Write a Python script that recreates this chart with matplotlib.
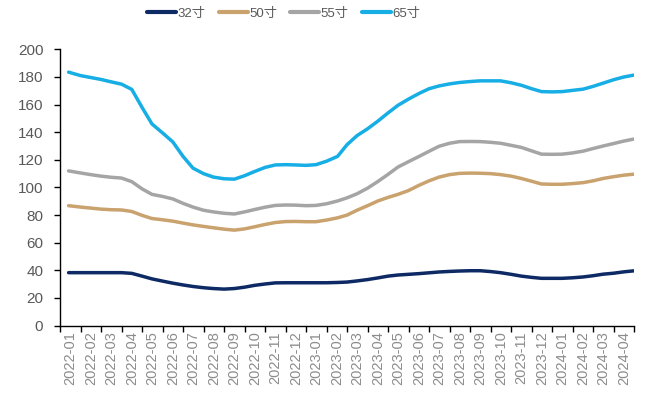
import matplotlib
matplotlib.use("Agg")
import matplotlib.pyplot as plt
import pandas as pd
import calendar

plt.rcParams['font.family'] = ['Liberation Sans', 'Noto Sans CJK SC', 'DejaVu Sans']

month_labels = ["2022-01", "2022-02", "2022-03", "2022-04", "2022-05", "2022-06", "2022-07",
                "2022-08", "2022-09", "2022-10", "2022-11", "2022-12", "2023-01", "2023-02",
                "2023-03", "2023-04", "2023-05", "2023-06", "2023-07", "2023-08", "2023-09",
                "2023-10", "2023-11", "2023-12", "2024-01", "2024-02", "2024-03", "2024-04"]

dates = ["2022-01-14",
         "2022-02-01", "2022-02-16", "2022-03-01", "2022-03-16", "2022-04-01", "2022-04-16",
         "2022-05-01", "2022-05-16", "2022-06-01", "2022-06-16", "2022-07-01", "2022-07-16",
         "2022-08-01", "2022-08-16", "2022-09-01", "2022-09-16", "2022-10-01", "2022-10-16",
         "2022-11-01", "2022-11-16", "2022-12-01", "2022-12-16", "2023-01-01", "2023-01-16",
         "2023-02-01", "2023-02-16", "2023-03-01", "2023-03-16", "2023-04-01", "2023-04-16",
         "2023-05-01", "2023-05-16", "2023-06-01", "2023-06-16", "2023-07-01", "2023-07-16",
         "2023-08-01", "2023-08-16", "2023-09-01", "2023-09-16", "2023-10-01", "2023-10-16",
         "2023-11-01", "2023-11-16", "2023-12-01", "2023-12-16", "2024-01-01", "2024-01-16",
         "2024-02-01", "2024-02-16", "2024-03-01", "2024-03-16", "2024-04-01", "2024-04-16",
         "2024-04-30"]

s32 = [38.3, 38.3, 38.3, 38.3, 38.3, 38.3, 37.8, 35.8, 33.8, 32.2, 30.7, 29.4, 28.3, 27.4,
       26.8, 26.4, 26.8, 27.8, 29.1, 30.1, 30.9, 31.0, 31.0, 31.0, 31.0, 31.0, 31.2, 31.5,
       32.3, 33.3, 34.5, 35.8, 36.6, 37.1, 37.6, 38.2, 38.8, 39.2, 39.5, 39.7, 39.7, 39.1,
       38.3, 37.1, 35.8, 34.9, 34.2, 34.2, 34.2, 34.6, 35.2, 36.1, 37.2, 37.9, 38.9, 39.6]

s50 = [86.8, 85.8, 85.0, 84.3, 83.9, 83.7, 82.6, 79.8, 77.5, 76.6, 75.6, 74.2, 72.9, 71.8,
       70.8, 69.8, 69.1, 70.0, 71.5, 73.2, 74.6, 75.3, 75.4, 75.2, 75.2, 76.4, 78.0, 80.0,
       83.5, 86.8, 90.2, 92.8, 95.0, 97.8, 101.5, 104.8, 107.5, 109.3, 110.2, 110.4, 110.3,
       110.0, 109.3, 108.2, 106.5, 104.5, 102.5, 102.3, 102.3, 102.8, 103.5, 104.8, 106.5,
       107.8, 108.9, 109.6]

s55 = [112.0, 110.5, 109.2, 108.2, 107.4, 106.8, 104.2, 99.0, 95.0, 93.5, 91.7, 88.5, 85.8,
       83.5, 82.3, 81.3, 80.8, 82.3, 84.0, 85.7, 87.0, 87.3, 87.2, 86.8, 87.0, 88.2, 90.2,
       92.5, 95.4, 99.5, 104.3, 109.5, 114.8, 118.7, 122.4, 126.2, 129.8, 132.0, 133.2, 133.3,
       133.2, 132.7, 132.0, 130.5, 129.0, 126.5, 124.1, 124.0, 124.1, 125.0, 126.3, 128.2,
       130.0, 131.8, 133.6, 135.0]

s65 = [183.5, 181.0, 179.5, 178.2, 176.5, 174.8, 171.0, 158.0, 146.0, 139.5, 133.0, 122.5,
       114.0, 110.0, 107.5, 106.3, 106.0, 108.5, 111.5, 114.5, 116.3, 116.5, 116.3, 116.0,
       116.5, 119.0, 122.5, 131.0, 137.5, 142.5, 148.0, 154.0, 159.5, 164.0, 168.0, 171.5,
       173.5, 175.0, 176.0, 176.7, 177.2, 177.2, 177.2, 175.8, 174.0, 171.5, 169.4, 169.2,
       169.4, 170.3, 171.2, 173.2, 175.5, 178.0, 180.0, 181.3]

series_names = ["32寸", "50寸", "55寸", "65寸"]
series_colors = ["#0E2A64", "#C9A26E", "#A5A5A5", "#17AEE6"]


def month_pos(d):
    ts = pd.Timestamp(d)
    dim = calendar.monthrange(ts.year, ts.month)[1]
    return (ts.year - 2022) * 12 + ts.month - 1 + (ts.day - 1) / dim


x = [month_pos(d) for d in dates]

fig = plt.figure(figsize=(6.48, 3.98), dpi=100)
ax = fig.add_axes([0.0926, 0.182, 0.886, 0.694])

for vals, name, col in zip([s32, s50, s55, s65], series_names, series_colors):
    ax.plot(x, vals, color=col, lw=2.5, label=name, solid_capstyle='round',
            solid_joinstyle='round')

ax.set_ylim(0, 200)
ax.set_yticks(range(0, 201, 20))
ax.set_xlim(0, len(month_labels))
ax.set_xticks(range(0, len(month_labels) + 1))
ax.set_xticklabels([])
ax.set_xticks([i + 0.5 for i in range(len(month_labels))], minor=True)
ax.set_xticklabels(month_labels, minor=True, rotation=90, fontsize=10.5, color="#8C8C8C")
ax.tick_params(axis='x', which='major', direction='out', length=4, width=1, color='black')
ax.tick_params(axis='x', which='minor', length=0, pad=4)
ax.tick_params(axis='y', direction='out', length=4, width=1, color='black', pad=8,
               labelsize=11, labelcolor="#595959")

for sp in ['top', 'right']:
    ax.spines[sp].set_visible(False)
for sp in ['left', 'bottom']:
    ax.spines[sp].set_color('black')
    ax.spines[sp].set_linewidth(1)

leg = fig.legend(loc='center', bbox_to_anchor=(0.438, 0.965), ncol=4, frameon=False,
                 fontsize=9.5, handlelength=2.2, handletextpad=0.1, columnspacing=1.0,
                 labelcolor="#595959")
for line in leg.get_lines():
    line.set_linewidth(3)

fig.savefig("out.png", dpi=100)
